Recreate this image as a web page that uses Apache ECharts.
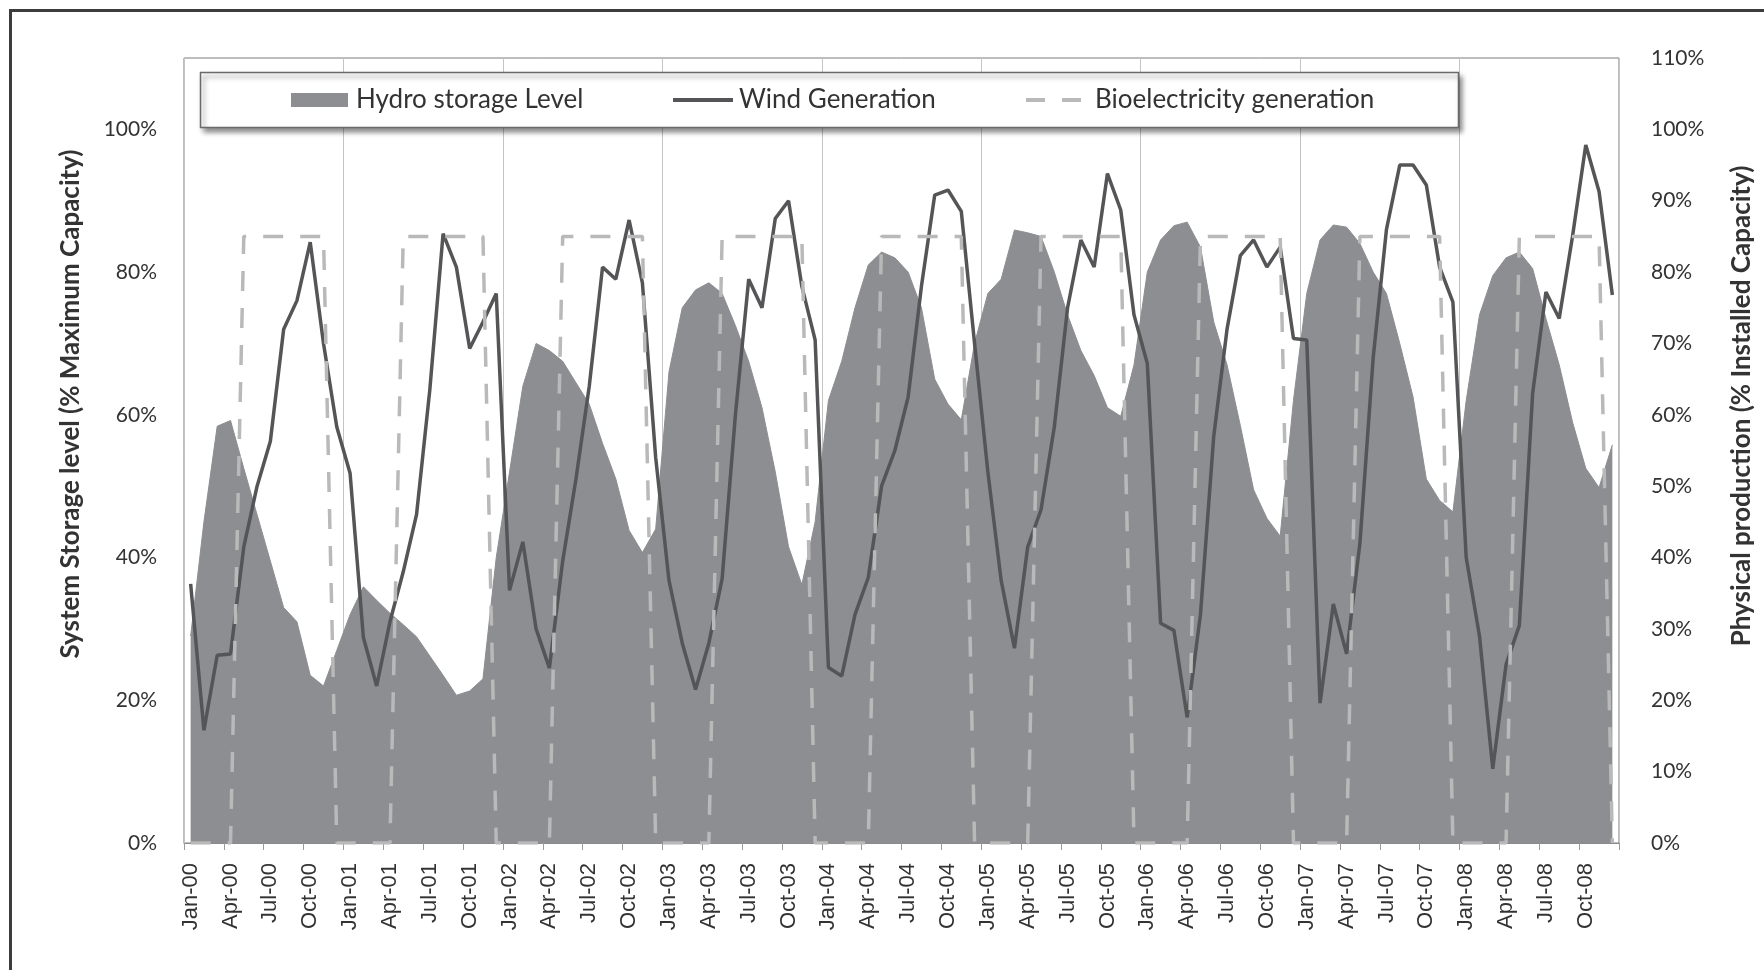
<!DOCTYPE html>
<html>
<head>
<meta charset="utf-8">
<script src="https://cdn.jsdelivr.net/npm/echarts@6/dist/echarts.min.js"></script>
<style>
  html, body { margin: 0; padding: 0; background: #ffffff; }
  #chart { width: 1764px; height: 970px; }
</style>
</head>
<body>
<div id="chart"></div>
<script>
// Month labels, Jan-00 .. Dec-08
const monthNames = ['Jan', 'Feb', 'Mar', 'Apr', 'May', 'Jun', 'Jul', 'Aug', 'Sep', 'Oct', 'Nov', 'Dec'];
const yearSuffixes = ['00', '01', '02', '03', '04', '05', '06', '07', '08'];
const categories = [];
yearSuffixes.forEach(function (y) {
  monthNames.forEach(function (m) { categories.push(m + '-' + y); });
});

// System storage level, % of maximum capacity (left axis), one row per year
const hydroStorage = [
  29, 45, 58.4, 59.2, 52.5, 46, 39.5, 33, 31, 23.5, 22, 27,
  32, 35.9, 34, 32.2, 30.6, 28.9, 26.2, 23.5, 20.7, 21.3, 23, 40,
  52, 64, 70, 69, 67.5, 64.5, 61.5, 56, 51, 43.8, 40.7, 44,
  66, 75, 77.5, 78.5, 77, 72.5, 67.5, 61, 52, 41.5, 36.2, 45,
  62, 67.5, 75, 81, 82.8, 82, 80, 75, 65, 61.5, 59.3, 70,
  77, 79, 85.9, 85.5, 85, 80, 74, 69, 65.5, 61, 59.8, 67,
  80, 84.5, 86.5, 87, 83.5, 73, 67, 58.5, 49.5, 45.5, 43, 62,
  77, 84.5, 86.6, 86.3, 84, 80, 77, 70, 62.5, 51, 48, 46.4,
  62, 74, 79.5, 82, 82.8, 80.5, 73.5, 67, 59, 52.5, 49.8, 55.8
];

// Wind generation, % of installed capacity (right axis)
const windGeneration = [
  36.3, 15.8, 26.3, 26.5, 41.5, 50, 56.3, 72, 76, 84.2, 70, 58.3,
  51.8, 28.8, 22, 31, 38, 46, 63.5, 85.4, 80.7, 69.3, 73, 77,
  35.4, 42.2, 30, 24.5, 39.5, 51, 64, 80.7, 79, 87.3, 78.5, 54,
  36.8, 28, 21.5, 28, 37, 60, 79, 75, 87.5, 90, 78, 70.5,
  24.6, 23.4, 32, 37.2, 50, 55, 62.5, 78, 90.8, 91.5, 88.5, 70,
  52, 36.8, 27.3, 41.5, 46.7, 58.3, 75, 84.5, 80.7, 93.8, 88.7, 74,
  67.2, 30.8, 29.8, 17.6, 32, 57, 72, 82.3, 84.5, 80.7, 83.5, 70.7,
  70.5, 19.6, 33.5, 26.5, 42, 68, 86, 95, 95, 92.2, 80.7, 75.8,
  40, 29, 10.4, 25, 30.5, 63, 77.2, 73.5, 85, 97.8, 91.3, 76.8
];

// Bioelectricity generation, % of installed capacity (right axis)
const bioGeneration = [
  0, 0, 0, 0, 85, 85, 85, 85, 85, 85, 85, 0,
  0, 0, 0, 0, 85, 85, 85, 85, 85, 85, 85, 0,
  0, 0, 0, 0, 85, 85, 85, 85, 85, 85, 85, 0,
  0, 0, 0, 0, 85, 85, 85, 85, 85, 85, 85, 0,
  0, 0, 0, 0, 85, 85, 85, 85, 85, 85, 85, 0,
  0, 0, 0, 0, 85, 85, 85, 85, 85, 85, 85, 0,
  0, 0, 0, 0, 85, 85, 85, 85, 85, 85, 85, 0,
  0, 0, 0, 0, 85, 85, 85, 85, 85, 85, 85, 0,
  0, 0, 0, 0, 85, 85, 85, 85, 85, 85, 85, 0
];

const seriesNames = ['Hydro storage Level', 'Wind Generation', 'Bioelectricity generation'];
const leftAxisTitle = 'System Storage level (% Maximum Capacity)';
const rightAxisTitle = 'Physical production (% Installed Capacity)';

const HYDRO_COLOR = '#8d8e92';
const WIND_COLOR = '#555558';
const BIO_COLOR = '#b9b9b9';
const TEXT_COLOR = '#333333';
const UI_FONT = 'Lato, "Open Sans", sans-serif';

// legend swatches: a solid bar for the wind line, two dashes for the bio line
const WIND_ICON = 'path://M0,0H60V4H0Z';
const BIO_ICON = 'path://M0,0H19V4H0ZM36,0H55V4H36Z';

const chart = echarts.init(document.getElementById('chart'), null, { renderer: 'canvas' });

function legendFor(name, left, icon, w, h, textPad) {
  return {
    data: [{ name: name, icon: icon }],
    left: left,
    top: 87,
    padding: 0,
    itemWidth: w,
    itemHeight: h,
    itemGap: 0,
    selectedMode: false,
    z: 5,
    itemStyle: { borderWidth: 0 },
    textStyle: { fontFamily: UI_FONT, fontSize: 26, color: TEXT_COLOR, padding: [0, 0, 0, textPad] }
  };
}

function axisTitle(text, x, y) {
  return {
    type: 'text', z: 3,
    x: x, y: y, rotation: Math.PI / 2,
    style: {
      text: text, align: 'center', verticalAlign: 'middle',
      fontFamily: UI_FONT, fontWeight: 'bold', fontSize: 26, fill: TEXT_COLOR
    }
  };
}

const option = {
  backgroundColor: '#ffffff',
  animation: false,
  textStyle: { fontFamily: UI_FONT },
  grid: {
    left: 184, right: 145, top: 58, bottom: 127,
    show: true, borderColor: '#7d7d7d', borderWidth: 1, backgroundColor: 'transparent',
    containLabel: false
  },
  graphic: [
    // outer frame
    {
      type: 'rect', z: 0,
      shape: { x: 10.5, y: 10.5, width: 1800, height: 1000 },
      style: { fill: 'none', stroke: '#3c3c3c', lineWidth: 3 }
    },
    // legend panel with drop shadow
    {
      type: 'rect', z: 3,
      shape: { x: 200.5, y: 72.5, width: 1258, height: 55 },
      style: {
        fill: '#ffffff', stroke: '#6a6a6a', lineWidth: 1.5,
        shadowBlur: 5, shadowOffsetX: 3, shadowOffsetY: 4, shadowColor: 'rgba(0,0,0,0.45)'
      }
    },
    axisTitle(leftAxisTitle, 71, 404),
    axisTitle(rightAxisTitle, 1742, 406)
  ],
  legend: [
    legendFor(seriesNames[0], 291, 'rect', 57, 14, 3),
    legendFor(seriesNames[1], 673, WIND_ICON, 60, 4.5, 1),
    legendFor(seriesNames[2], 1026, BIO_ICON, 55, 4.5, 9)
  ],
  xAxis: {
    type: 'category',
    data: categories,
    boundaryGap: true,
    axisLine: { show: true, lineStyle: { color: '#8a8a8a', width: 1 } },
    axisTick: { show: true, interval: 2, length: 7, lineStyle: { color: '#9a9a9a' } },
    axisLabel: {
      interval: 2, rotate: 90, margin: 20,
      fontFamily: '"Liberation Sans", Arial, sans-serif', fontSize: 22, color: TEXT_COLOR
    },
    splitLine: { show: true, interval: 11, lineStyle: { color: '#c4c4c4', width: 1 } }
  },
  yAxis: [
    {
      type: 'value', min: 0, max: 110, interval: 20, position: 'left',
      axisLine: { show: false }, axisTick: { show: false }, splitLine: { show: false },
      axisLabel: {
        showMaxLabel: false, margin: 27, formatter: '{value}%',
        fontFamily: UI_FONT, fontSize: 21, color: TEXT_COLOR
      }
    },
    {
      type: 'value', min: 0, max: 110, interval: 10, position: 'right',
      axisLine: { show: false }, axisTick: { show: false }, splitLine: { show: false },
      axisLabel: {
        margin: 32, formatter: '{value}%',
        fontFamily: UI_FONT, fontSize: 21, color: TEXT_COLOR
      }
    }
  ],
  series: [
    {
      name: seriesNames[0], type: 'line', yAxisIndex: 0, data: hydroStorage,
      symbol: 'none', z: 1,
      itemStyle: { color: HYDRO_COLOR, borderWidth: 0 },
      lineStyle: { color: HYDRO_COLOR, width: 1 },
      areaStyle: { color: HYDRO_COLOR, opacity: 1 }
    },
    {
      name: seriesNames[1], type: 'line', yAxisIndex: 1, data: windGeneration,
      symbol: 'none', z: 2,
      itemStyle: { color: WIND_COLOR },
      lineStyle: { color: WIND_COLOR, width: 3.5 }
    },
    {
      name: seriesNames[2], type: 'line', yAxisIndex: 1, data: bioGeneration,
      symbol: 'none', z: 2,
      itemStyle: { color: BIO_COLOR },
      lineStyle: { color: BIO_COLOR, width: 3.5, type: [20, 17] }
    }
  ]
};

chart.setOption(option);
</script>
</body>
</html>
